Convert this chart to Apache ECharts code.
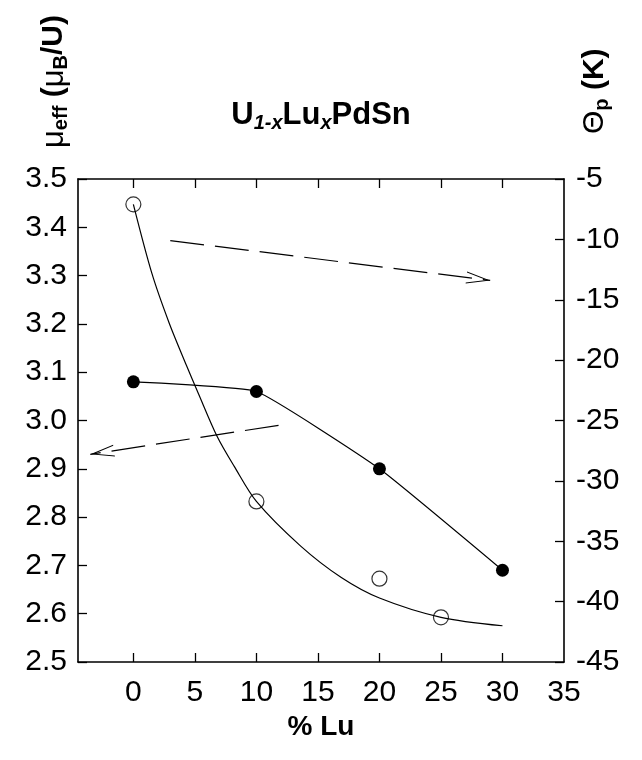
<!DOCTYPE html>
<html>
<head>
<meta charset="utf-8">
<script src="https://cdn.jsdelivr.net/npm/echarts@6/dist/echarts.min.js"></script>
<style>
  html, body { margin: 0; padding: 0; background: #fff; }
  #chart { width: 642px; height: 760px; }
</style>
</head>
<body>
<div id="chart"></div>
<script>
// x ticks (% Lu)
const xLabels = [0, 5, 10, 15, 20, 25, 30, 35]
const xTickMarks = [0, 5, 10, 15, 20, 25, 30]

// mu_eff, filled circles, left axis
const muX = [0, 10, 20, 30]
const muVals = [3.08, 3.06, 2.90, 2.69]

// Theta_p, open circles, right axis
const thetaX = [0, 10, 20, 25]
const thetaVals = [-7.1, -31.7, -38.1, -41.3]

// guide curve drawn through the Theta_p points
const fitX = [0, 1.5, 2.9, 4.3, 5.3, 6.8, 8.2, 10, 13.6, 16.9, 20, 25, 30]
const fitVals = [-7.1, -12.8, -16.9, -20.4, -22.8, -26.3, -28.8, -31.7, -35.4, -38.0, -39.7, -41.3, -42.0]

// dashed arrows: [start, end] in data units
const thetaArrow = [[3.0, -10.1], [29.0, -13.4]]
const muArrow = [[11.8, 2.99], [-3.5, 2.93]]

const FONT = 'Liberation Sans'
const chevron = 'path://M0,24 L6,0 L12,24 L11,24 L6,4 L1,24 Z'

const chart = echarts.init(document.getElementById('chart'))

function arrowLine(pts) {
  return {
    silent: true,
    symbol: ['none', chevron],
    symbolSize: [12, 24],
    symbolOffset: [[0, 0], [0, 12]],
    label: { show: false },
    lineStyle: { color: '#000', width: 1.2, type: [34, 11] },
    itemStyle: { color: '#000' },
    emphasis: { disabled: true },
    data: [[{ coord: pts[0] }, { coord: pts[1] }]]
  }
}

const tickStyle = { show: true, inside: true, length: 9, lineStyle: { color: '#000', width: 1.3 } }
const lineAxis = { show: true, onZero: false, lineStyle: { color: '#000', width: 1.6 } }
const labelStyle = { color: '#000', fontFamily: FONT, fontSize: 30 }

chart.setOption({
  animation: false,
  backgroundColor: '#fff',
  title: {
    left: 'center',
    top: 92,
    text: '{m|U}{s|1-x}{m|Lu}{s|x}{m|PdSn}',
    textStyle: {
      rich: {
        m: { fontFamily: FONT, fontSize: 31, fontWeight: 'bold', color: '#000', lineHeight: 36, verticalAlign: 'middle' },
        s: { fontFamily: FONT, fontSize: 20, fontWeight: 'bold', fontStyle: 'italic', color: '#000', lineHeight: 14, verticalAlign: 'bottom' }
      }
    }
  },
  graphic: [
    {
      type: 'text',
      x: 54,
      y: 148,
      rotation: Math.PI / 2,
      silent: true,
      style: {
        text: '{u|μ}{s|eff}{m| (}{u|μ}{s|B}{m|/U)}',
        align: 'left',
        verticalAlign: 'middle',
        rich: {
          u: { fontFamily: FONT, fontSize: 31, color: '#000', lineHeight: 34, verticalAlign: 'middle' },
          m: { fontFamily: FONT, fontSize: 30, fontWeight: 'bold', color: '#000', lineHeight: 34, verticalAlign: 'middle' },
          s: { fontFamily: FONT, fontSize: 20, fontWeight: 'bold', color: '#000', lineHeight: 14, verticalAlign: 'bottom' }
        }
      }
    },
    {
      type: 'text',
      x: 595,
      y: 134,
      rotation: Math.PI / 2,
      silent: true,
      style: {
        text: '{u|Θ}{s|p}{m| (K)}',
        align: 'left',
        verticalAlign: 'middle',
        rich: {
          u: { fontFamily: FONT, fontSize: 30, color: '#000', lineHeight: 34, verticalAlign: 'middle' },
          m: { fontFamily: FONT, fontSize: 30, fontWeight: 'bold', color: '#000', lineHeight: 34, verticalAlign: 'middle' },
          s: { fontFamily: FONT, fontSize: 20, fontWeight: 'bold', color: '#000', lineHeight: 14, verticalAlign: 'bottom' }
        }
      }
    }
  ],
  grid: { left: 78, right: 78, top: 179, bottom: 98 },
  xAxis: [
    {
      type: 'value',
      position: 'bottom',
      min: -4.5,
      max: 35,
      name: '% Lu',
      nameLocation: 'middle',
      nameGap: 50,
      nameTextStyle: { fontFamily: FONT, fontSize: 28, fontWeight: 'bold', color: '#000' },
      axisLine: lineAxis,
      axisTick: Object.assign({}, tickStyle, { customValues: xTickMarks }),
      axisLabel: Object.assign({}, labelStyle, { margin: 16, customValues: xLabels }),
      splitLine: { show: false }
    },
    {
      type: 'value',
      position: 'top',
      min: -4.5,
      max: 35,
      axisLine: lineAxis,
      axisTick: Object.assign({}, tickStyle, { customValues: xTickMarks }),
      axisLabel: { show: false },
      splitLine: { show: false }
    }
  ],
  yAxis: [
    {
      type: 'value',
      position: 'left',
      min: 2.5,
      max: 3.5,
      interval: 0.1,
      axisLine: lineAxis,
      axisTick: tickStyle,
      axisLabel: Object.assign({}, labelStyle, { margin: 11, formatter: v => v.toFixed(1) }),
      splitLine: { show: false }
    },
    {
      type: 'value',
      position: 'right',
      min: -45,
      max: -5,
      interval: 5,
      axisLine: lineAxis,
      axisTick: tickStyle,
      axisLabel: Object.assign({}, labelStyle, { margin: 12 }),
      splitLine: { show: false }
    }
  ],
  series: [
    {
      name: 'mu_eff',
      type: 'line',
      xAxisIndex: 0,
      yAxisIndex: 0,
      data: muX.map((x, i) => [x, muVals[i]]),
      smooth: 0.12,
      symbol: 'circle',
      symbolSize: 13,
      itemStyle: { color: '#000' },
      lineStyle: { color: '#000', width: 1.2 },
      markLine: arrowLine(muArrow),
      z: 3
    },
    {
      name: 'theta_fit',
      type: 'line',
      xAxisIndex: 0,
      yAxisIndex: 1,
      data: fitX.map((x, i) => [x, fitVals[i]]),
      smooth: 0.3,
      showSymbol: false,
      lineStyle: { color: '#000', width: 1.2 },
      markLine: arrowLine(thetaArrow),
      z: 2
    },
    {
      name: 'theta_p',
      type: 'scatter',
      xAxisIndex: 0,
      yAxisIndex: 1,
      data: thetaX.map((x, i) => [x, thetaVals[i]]),
      symbol: 'circle',
      symbolSize: 15,
      itemStyle: { color: 'rgba(0,0,0,0)', borderColor: '#000', borderWidth: 1.2 },
      z: 4
    }
  ]
})
</script>
</body>
</html>
